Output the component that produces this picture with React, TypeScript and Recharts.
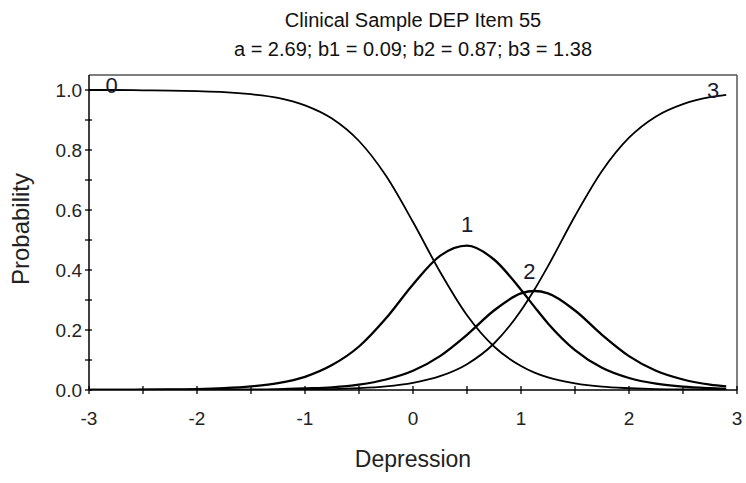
import {
  LineChart,
  Line,
  XAxis,
  YAxis,
  ReferenceLine,
  ReferenceDot,
  Label,
} from "recharts";

const theta = [
  -3, -2.75, -2.5, -2.25, -2, -1.75, -1.5, -1.25, -1, -0.75, -0.5, -0.25, 0,
  0.25, 0.5, 0.75, 1, 1.125, 1.25, 1.5, 1.75, 2, 2.25, 2.5, 2.75, 2.9,
];
const cat0 = [
  1.0, 1.0, 0.999, 0.998, 0.996, 0.993, 0.986, 0.974, 0.949, 0.905, 0.83,
  0.714, 0.56, 0.394, 0.249, 0.145, 0.08, 0.058, 0.042, 0.022, 0.011, 0.006,
  0.003, 0.002, 0.001, 0.0,
];
const cat1 = [
  0.0, 0.0, 0.001, 0.002, 0.003, 0.006, 0.012, 0.023, 0.044, 0.083, 0.145,
  0.239, 0.352, 0.447, 0.481, 0.435, 0.334, 0.277, 0.222, 0.133, 0.074, 0.04,
  0.021, 0.011, 0.006, 0.004,
];
const cat2 = [
  0.0, 0.0, 0.0, 0.0, 0.0, 0.001, 0.001, 0.002, 0.005, 0.009, 0.018, 0.035,
  0.064, 0.113, 0.184, 0.265, 0.322, 0.33, 0.322, 0.265, 0.184, 0.113, 0.064,
  0.035, 0.018, 0.012,
];
const cat3 = [
  0.0, 0.0, 0.0, 0.0, 0.0, 0.0, 0.0, 0.001, 0.002, 0.003, 0.006, 0.012, 0.024,
  0.046, 0.086, 0.155, 0.265, 0.335, 0.413, 0.58, 0.73, 0.841, 0.912, 0.953,
  0.976, 0.984,
];

const xTicks = [-3, -2.5, -2, -1.5, -1, -0.5, 0, 0.5, 1, 1.5, 2, 2.5, 3];
const yTicks = [0, 0.1, 0.2, 0.3, 0.4, 0.5, 0.6, 0.7, 0.8, 0.9, 1.0];

// curve labels: [text, theta, probability]
const curveLabels: [string, number, number][] = [
  ["0", -2.79, 1.017],
  ["1", 0.5, 0.553],
  ["2", 1.077, 0.397],
  ["3", 2.78, 1.0],
];

const data = theta.map((t, i) => ({
  theta: t,
  c0: cat0[i],
  c1: cat1[i],
  c2: cat2[i],
  c3: cat3[i],
}));

const FONT = "'Liberation Sans', Arial, sans-serif";

function XTick({ x, y, payload }: any) {
  const v = payload.value;
  const major = Number.isInteger(v);
  return (
    <g>
      <line x1={x} x2={x} y1={y - 4} y2={y + 4} stroke="#000" strokeWidth={1.3} />
      {major && (
        <text x={x} y={y + 35} textAnchor="middle" fontSize={19} fill="#222" fontFamily={FONT}>
          {v}
        </text>
      )}
    </g>
  );
}

function YTick({ x, y, payload }: any) {
  const v = payload.value;
  const major = Math.round(v * 10) % 2 === 0;
  return (
    <g>
      <line x1={x - 4} x2={x + 3} y1={y} y2={y} stroke="#000" strokeWidth={1.3} />
      {major && (
        <text x={x - 7} y={y + 7} textAnchor="end" fontSize={19} fill="#222" fontFamily={FONT}>
          {v.toFixed(1)}
        </text>
      )}
    </g>
  );
}

export default function App() {
  return (
    <div style={{ position: "relative", width: 746, height: 483, background: "#fff" }}>
      <style>{"body{margin:0}"}</style>
      <div
        style={{
          position: "absolute",
          left: 89,
          width: 648,
          top: 6,
          textAlign: "center",
          fontFamily: FONT,
          fontSize: 20,
          lineHeight: "29px",
          color: "#111",
        }}
      >
        <div>Clinical Sample DEP Item 55</div>
        <div>a = 2.69; b1 = 0.09; b2 = 0.87; b3 = 1.38</div>
      </div>
      <LineChart
        width={746}
        height={483}
        data={data}
        margin={{ top: 75, right: 9, bottom: 33, left: 29 }}
      >
        <XAxis
          dataKey="theta"
          type="number"
          domain={[-3, 3]}
          ticks={xTicks}
          interval={0}
          tickSize={0}
          tickMargin={0}
          tick={<XTick />}
          height={60}
          stroke="#000"
          strokeWidth={1.5}
        >
          <Label
            content={() => (
              <text x={413} y={467} textAnchor="middle" fontSize={23} fill="#222" fontFamily={FONT}>
                Depression
              </text>
            )}
          />
        </XAxis>
        <YAxis
          type="number"
          domain={[0, 1.05]}
          ticks={yTicks}
          interval={0}
          tickSize={0}
          tickMargin={0}
          tick={<YTick />}
          width={60}
          stroke="#000"
          strokeWidth={1.5}
          allowDataOverflow
        >
          <Label
            content={() => (
              <text
                x={29}
                y={229}
                transform="rotate(-90 29 229)"
                textAnchor="middle"
                fontSize={24}
                fill="#222"
                fontFamily={FONT}
              >
                Probability
              </text>
            )}
          />
        </YAxis>
        <ReferenceLine y={1.05} stroke="#555" strokeWidth={1.5} />
        <ReferenceLine x={3} stroke="#555" strokeWidth={1.5} />
        <Line dataKey="c0" type="monotone" stroke="#000" strokeWidth={1.8} dot={false} isAnimationActive={false} />
        <Line dataKey="c1" type="monotone" stroke="#000" strokeWidth={2.3} dot={false} isAnimationActive={false} />
        <Line dataKey="c2" type="monotone" stroke="#000" strokeWidth={2.3} dot={false} isAnimationActive={false} />
        <Line dataKey="c3" type="monotone" stroke="#000" strokeWidth={1.8} dot={false} isAnimationActive={false} />
        {curveLabels.map(([txt, cx, cy]) => (
          <ReferenceDot
            key={txt}
            x={cx}
            y={cy}
            r={0}
            fill="none"
            stroke="none"
            label={{ value: txt, position: "center", fontSize: 22, fill: "#1a1a33", fontFamily: FONT }}
          />
        ))}
      </LineChart>
    </div>
  );
}
